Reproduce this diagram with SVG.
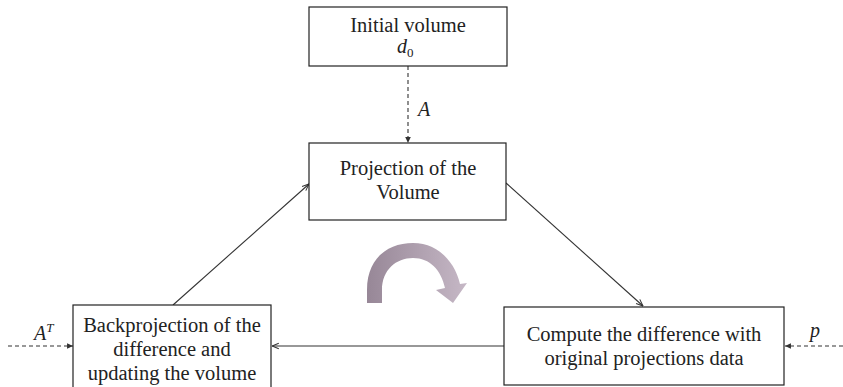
<svg xmlns="http://www.w3.org/2000/svg" width="843" height="387" viewBox="0 0 843 387">
<style>
.box{fill:#fff;stroke:#222;stroke-width:1.2}
.t{font-family:"Liberation Serif","Times New Roman",serif;font-size:20.5px;fill:#222;text-anchor:middle}
.m{font-family:"Liberation Serif","Times New Roman",serif;font-size:20px;font-style:italic;fill:#222}
.c{stroke:#333;stroke-width:1.1;fill:none}
.d{stroke:#333;stroke-width:1.1;fill:none;stroke-dasharray:4 3}
</style>
<defs>
<marker id="ah" viewBox="0 0 10 10" refX="9.5" refY="5" markerWidth="8" markerHeight="8" markerUnits="userSpaceOnUse" orient="auto">
<path d="M1,1.5 L9.5,5 L1,8.5" fill="none" stroke="#333" stroke-width="1.3"/>
</marker>
<marker id="ahf" viewBox="0 0 10 10" refX="9.5" refY="5" markerWidth="7" markerHeight="7" markerUnits="userSpaceOnUse" orient="auto">
<path d="M1,1 L9.5,5 L1,9 Z" fill="#333"/>
</marker>
<linearGradient id="g" x1="0" y1="0" x2="1" y2="0">
<stop offset="0" stop-color="#978797"/>
<stop offset="1" stop-color="#c6b8c6"/>
</linearGradient>
<filter id="blur"><feGaussianBlur stdDeviation="0.6"/></filter>
</defs>
<g id="connectors">
<line class="d" x1="408" y1="66" x2="408" y2="143" marker-end="url(#ahf)"/>
<line class="c" x1="173" y1="305" x2="309" y2="184" marker-end="url(#ah)"/>
<line class="c" x1="506" y1="183" x2="643" y2="306" marker-end="url(#ah)"/>
<line class="c" x1="504" y1="346" x2="272" y2="346" marker-end="url(#ah)"/>
<line class="d" x1="8" y1="346" x2="73" y2="346" marker-end="url(#ahf)"/>
<line class="d" x1="843" y1="346" x2="785" y2="346" marker-end="url(#ahf)"/>
<text class="m" x="418" y="116">A</text>
<text class="m" x="34" y="340">A<tspan font-size="13" dy="-8">T</tspan></text>
<text class="m" x="810" y="337">p</text>
</g>
<g id="init">
<rect class="box" x="309" y="7" width="198" height="59"/>
<text class="t" x="408" y="32">Initial volume</text>
<text class="m" x="397" y="53">d<tspan font-size="13" dy="4" font-style="normal">0</tspan></text>
</g>
<g id="projection">
<rect class="box" x="309" y="143" width="197" height="77"/>
<text class="t" x="408" y="175">Projection of the</text>
<text class="t" x="408" y="199">Volume</text>
</g>
<g id="backprojection">
<rect class="box" x="73" y="305" width="198" height="90"/>
<text class="t" x="172" y="332">Backprojection of the</text>
<text class="t" x="172" y="356">difference and</text>
<text class="t" x="172" y="380">updating the volume</text>
</g>
<g id="compute">
<rect class="box" x="504" y="307" width="280" height="78"/>
<text class="t" x="644" y="341">Compute the difference with</text>
<text class="t" x="644" y="365">original projections data</text>
</g>
<g id="cycle">
<path filter="url(#blur)" fill="url(#g)" d="M367,303 L367,290 C367,258 388,243 413,243 C438,243 455,262 460,284 L467,283 L453,303 L436,290 L445,288 C441,270 430,258 413,258 C396,258 382,270 382,290 L382,303 Z"/>
</g>
</svg>
